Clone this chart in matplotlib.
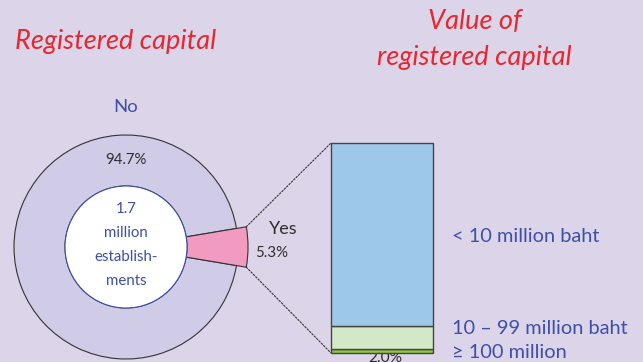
import numpy as np
import matplotlib.pyplot as plt
from matplotlib.patches import Circle, ConnectionPatch

plt.rcParams['font.family'] = ['Lato', 'DejaVu Sans']

# share of establishments with registered capital
pie_labels = ['Yes', 'No']
pie_values = [5.3, 94.7]

# value of registered capital among "Yes" (bottom to top)
cap_labels = ['\u2265 100 million', '10 \u2013 99 million baht', '< 10 million baht']
cap_values = [2.0, 10.8, 87.2]
cap_text = ['2.0%', '10.8 %', '87.2%']

bg = '#dcd5e9'
red = '#e8262f'
blue = '#3d4fa8'
dark = '#2e2e2e'

W, H = 643, 362
fig = plt.figure(figsize=(W / 100, H / 100), dpi=100, facecolor=bg)
ax = fig.add_axes([0, 0, 1, 1])

# donut: ring + exploded pink wedge
cx, cy, r_out, r_in = 126, 247, 112, 61
half = pie_values[0] * 3.6 / 2
wedges, _ = ax.pie(pie_values, colors=['#f29bc1', '#d0cbe6'], radius=r_out,
                   center=(cx, cy), startangle=-half, counterclock=True,
                   wedgeprops=dict(width=r_out - r_in, edgecolor='#333333',
                                   linewidth=0.8), frame=True)
ax.set_xlim(0, W)
ax.set_ylim(H, 0)
ax.set_aspect('equal')
ax.axis('off')
yes = wedges[0]
yes.set_radius(122)
yes.set_width(122 - r_in)
yes.set_zorder(3)
ax.add_patch(Circle((cx, cy), r_in, facecolor='white', edgecolor=blue,
                    linewidth=0.8, zorder=4))

ax.text(cx, 107, pie_labels[1], color=blue, fontsize=13.3, ha='center', va='center')
ax.text(cx, 160, f'{pie_values[1]}%', color=dark, fontsize=10.8,
        ha='center', va='center')
for k, line in enumerate(['1.7', 'million', 'establish-', 'ments']):
    ax.text(cx, 209 + 24 * k, line, color=blue, fontsize=10.8,
            ha='center', va='center', zorder=5)
ax.text(269, 229, pie_labels[0], color=dark, fontsize=13, ha='left', va='center')
ax.text(255, 253, f'{pie_values[0]}%', color=dark, fontsize=10.8,
        ha='left', va='center')

# stacked bar for value of capital
bx0, bx1, by0, by1 = 330.7, 432.7, 143.3, 352.7
bax = fig.add_axes([bx0 / W, 1 - by1 / H, (bx1 - bx0) / W, (by1 - by0) / H])
bax.set_xlim(0, 1)
bax.set_ylim(0, sum(cap_values))
bax.axis('off')
bottoms = np.concatenate([[0], np.cumsum(cap_values)[:-1]])
bar_cols = ['#8dc63f', '#d3e8c6', '#9ec8ea']
bax.bar(0.5, cap_values, width=1, bottom=bottoms, color=bar_cols,
        edgecolor='#444444', linewidth=1.0, clip_on=False)

ax.text(385, 237, cap_text[2], color=dark, fontsize=11.2, ha='center', va='center')
ax.text(390, 331, cap_text[1], color=dark, fontsize=11.2, ha='center', va='center')
ax.text(385, 358, cap_text[0], color=dark, fontsize=11.2, ha='center', va='center')
ax.text(452, 237, cap_labels[2], color=blue, fontsize=14.4, ha='left', va='center')
ax.text(452, 329, cap_labels[1], color=blue, fontsize=14.4, ha='left', va='center')
ax.text(452, 353, cap_labels[0], color=blue, fontsize=14.4, ha='left', va='center')

# dotted connectors from wedge tips to bar corners
a = np.deg2rad(half)
for sgn, yb in [(-1, sum(cap_values)), (1, 0)]:
    p = (cx + 122 * np.cos(a), cy + sgn * 122 * np.sin(a))
    con = ConnectionPatch(xyA=p, coordsA=ax.transData, xyB=(0, yb),
                          coordsB=bax.transData, linestyle=(0, (1.5, 1.5)),
                          color='#333333', linewidth=0.8)
    fig.add_artist(con)

# titles
ax.text(15, 42, 'Registered capital', color=red, fontsize=19.5,
        style='italic', ha='left', va='center')
ax.text(475, 22, 'Value of', color=red, fontsize=19.5,
        style='italic', ha='center', va='center')
ax.text(474, 57, 'registered capital', color=red, fontsize=19.5,
        style='italic', ha='center', va='center')

fig.savefig('out.png', dpi=100, facecolor=bg)
